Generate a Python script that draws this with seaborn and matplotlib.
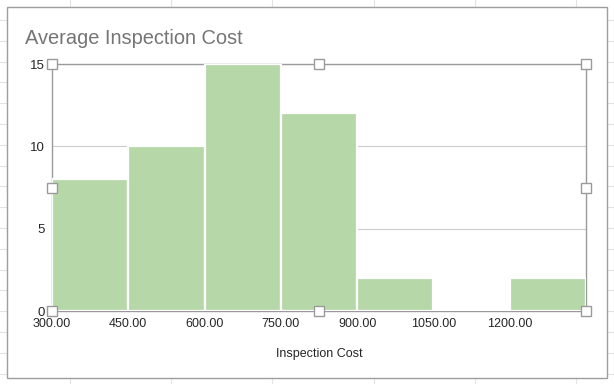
import numpy as np
import matplotlib
matplotlib.use("Agg")
import matplotlib.pyplot as plt
import seaborn as sns
from matplotlib.patches import Rectangle
from matplotlib.lines import Line2D

# histogram data
bin_edges = [300, 450, 600, 750, 900, 1050, 1200, 1350]
counts = [8, 10, 15, 12, 2, 0, 2]
x_ticks = [300, 450, 600, 750, 900, 1050, 1200]
y_ticks = [0, 5, 10, 15]

mids = [(a + b) / 2 for a, b in zip(bin_edges[:-1], bin_edges[1:])]

sns.set_style("white")
plt.rcParams['font.family'] = ['Liberation Sans', 'DejaVu Sans']

W, H = 614, 384
fig = plt.figure(figsize=(W / 100, H / 100), dpi=100)

def px(x, y):
    return x / W, 1 - y / H

# spreadsheet cell grid behind the chart
for cx in np.arange(70, W, 101.2):
    fig.add_artist(Line2D([cx / W] * 2, [0, 1], color='#e3e3e3', lw=0.8, zorder=0))
for ry in np.arange(20, H, 20.8):
    fig.add_artist(Line2D([0, 1], [1 - ry / H] * 2, color='#e3e3e3', lw=0.8, zorder=0))

# chart frame
x0, y0 = px(6.5, 378)
x1, y1 = px(607, 6.5)
fig.add_artist(Rectangle((x0, y0), x1 - x0, y1 - y0, facecolor='white',
                         edgecolor='#9e9e9e', lw=1, zorder=1))

l, b = px(52, 311)
r, t = px(586, 64)
ax = fig.add_axes([l, b, r - l, t - b], zorder=2)
ax.set_facecolor('white')

sns.histplot(x=mids, weights=counts, bins=bin_edges, color='#b6d7a8',
             edgecolor='white', linewidth=1.6, alpha=1, ax=ax, zorder=3)

ax.set_xlim(300, 1350)
ax.set_ylim(0, 15)
ax.set_xticks(x_ticks)
ax.set_xticklabels([f"{v:.2f}" for v in x_ticks], fontsize=9)
ax.set_yticks(y_ticks)
ax.set_yticklabels([str(v) for v in y_ticks], fontsize=9.5)
ax.tick_params(axis='y', length=0, pad=5)
ax.tick_params(axis='x', length=0, pad=5)
ax.yaxis.grid(True, color='#cccccc', lw=0.8)
ax.set_axisbelow(True)
for s in ax.spines.values():
    s.set_color('#9a9a9a')
    s.set_linewidth(1.0)
ax.set_ylabel('')
ax.set_xlabel('Inspection Cost', fontsize=9, labelpad=13)

# selection handles
hx = [0, 0.5, 1, 0, 1, 0, 0.5, 1]
hy = [0, 0, 0, 0.5, 0.5, 1, 1, 1]
ax.plot(hx, hy, 's', transform=ax.transAxes, ms=6.5, mfc='white',
        mec='#9a9a9a', mew=1, clip_on=False, zorder=5)

tx, ty = px(25, 44)
fig.text(tx, ty, 'Average Inspection Cost', fontsize=14.4, color='#757575',
         ha='left', va='baseline', zorder=4)

fig.savefig('out.png', dpi=100)
